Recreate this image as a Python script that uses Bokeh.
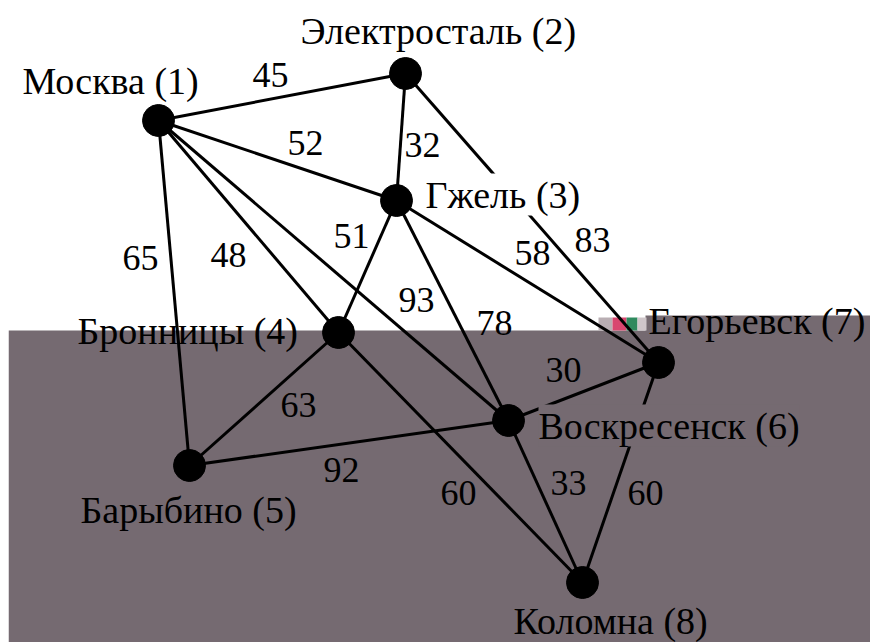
from bokeh.plotting import figure
from bokeh.models import Range1d, BoxAnnotation, ColumnDataSource
from bokeh.core.properties import value
from bokeh.embed import file_html
from bokeh.resources import INLINE

# Nodes (graph layout in picture coordinates)
node_names = ["Москва (1)", "Электросталь (2)", "Гжель (3)", "Бронницы (4)",
              "Барыбино (5)", "Воскресенск (6)", "Егорьевск (7)", "Коломна (8)"]
node_x = [158, 405, 396, 338, 189, 508, 658, 582]
node_y = [120, 73, 200, 332, 465, 420, 362, 582]

# Town label anchors (left edge, text anchor)
label_x = [22, 300, 425, 77, 80, 538, 648, 513]
label_y = [80, 30, 194, 330, 509, 425, 320, 620]

# Edges (1-based node numbers) and weights
edge_from = [1, 1, 1, 1, 1, 2, 2, 3, 3, 3, 4, 4, 5, 6, 6, 7]
edge_to   = [2, 3, 4, 5, 6, 3, 7, 4, 6, 7, 5, 8, 6, 7, 8, 8]
weights   = [45, 52, 48, 65, 93, 32, 83, 51, 78, 58, 63, 60, 92, 30, 33, 60]
# Weight label anchors (centre)
wlabel_x = [270, 305, 228, 140, 416, 422, 592, 351, 494, 532, 298, 458, 341, 563, 568, 645]
wlabel_y = [74, 142, 254, 257, 299, 144, 239, 235, 322, 252, 404, 492, 469, 369, 482, 492]

GRAY = "#756a71"
FONT = value("Liberation Serif")

p = figure(width=862, height=634, output_backend="svg", toolbar_location=None,
           x_range=Range1d(8, 870), y_range=Range1d(642, 8),
           min_border=0, background_fill_color="white", border_fill_color="white")
p.axis.visible = False
p.grid.visible = False
p.outline_line_color = None

# shaded lower part of the scan, with the small colour glitch left of "Егорьевск"
p.add_layout(BoxAnnotation(left=8, right=870, top=330, bottom=642,
                           fill_color=GRAY, fill_alpha=1, line_color=None, level="underlay"))
p.add_layout(BoxAnnotation(left=645, right=870, top=315, bottom=331,
                           fill_color=GRAY, fill_alpha=1, line_color=None, level="underlay"))
for l, r, c in [(598, 612, "#b9aeb3"), (612, 626, "#d8466f"), (626, 637, "#2f8a5e"),
                (637, 646, "#cfc6ca")]:
    p.add_layout(BoxAnnotation(left=l, right=r, top=317, bottom=330,
                               fill_color=c, fill_alpha=1, line_color=None, level="underlay"))

edges = ColumnDataSource(dict(
    x0=[node_x[a - 1] for a in edge_from], y0=[node_y[a - 1] for a in edge_from],
    x1=[node_x[b - 1] for b in edge_to], y1=[node_y[b - 1] for b in edge_to],
))
p.segment("x0", "y0", "x1", "y1", source=edges, line_color="black", line_width=3)

# town labels; two of them mask the edge passing under them
bg = [None, None, "white", None, None, GRAY, None, None]
plain = [i for i in range(8) if bg[i] is None]
masked = [i for i in range(8) if bg[i] is not None]
p.text(x=[label_x[i] for i in plain], y=[label_y[i] for i in plain],
       text=[node_names[i] for i in plain], text_font=FONT, text_font_size="38px",
       text_align="left", text_baseline="alphabetic", text_color="black")
for i in masked:
    p.text(x=[label_x[i]], y=[label_y[i]], text=[node_names[i]], text_font=FONT,
           text_font_size="38px", text_align="left", text_baseline="alphabetic",
           text_color="black", background_fill_color=bg[i], background_fill_alpha=1)

p.scatter(node_x, node_y, size=32, color="black")

p.text(x=wlabel_x, y=wlabel_y, text=[str(w) for w in weights], text_font=FONT,
       text_font_size="36px", text_align="center", text_baseline="alphabetic",
       text_color="black")

# keep the page exactly window-sized (8px margin on top/left) so it never scrolls
page = "{% block postamble %}<style>html,body{overflow:hidden;} body{margin:8px 0 0 8px;}</style>{% endblock %}"
open("out.html", "w").write(file_html(p, INLINE, template=page))
